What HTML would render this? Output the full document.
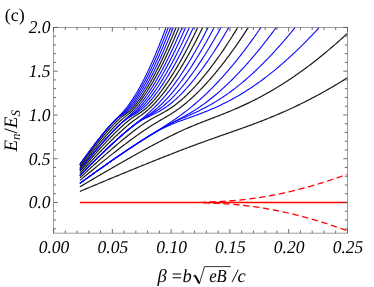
<!DOCTYPE html>
<html>
<head>
<meta charset="utf-8">
<title>Landau levels (c)</title>
<style>
html, body { margin: 0; padding: 0; background: #ffffff; }
body { width: 374px; height: 287px; overflow: hidden; font-family: "Liberation Serif", serif; }
svg { display: block; position: absolute; left: 0; top: 0; opacity: 0.999; will-change: transform; }
text { font-family: "Liberation Serif", serif; fill: #000; text-rendering: geometricPrecision; }
.it text, text.it { font-style: italic; }
</style>
</head>
<body>
<svg width="374" height="287" viewBox="0 0 374 287">
<defs>
<clipPath id="plot"><rect x="53.55" y="27.40" width="293.90" height="205.75"/></clipPath>
</defs>
<rect x="0" y="0" width="374" height="287" fill="#ffffff"/>
<g clip-path="url(#plot)" fill="none" stroke-width="1.3" stroke-linejoin="round">
<path d="M79.88 183.34 80.86 182.64 81.83 181.93 82.81 181.23 83.79 180.53 84.76 179.82 85.74 179.12 86.71 178.42 87.69 177.72 88.67 177.01 89.65 176.31 90.62 175.61 91.60 174.91 92.58 174.21 93.56 173.51 94.54 172.81 95.52 172.12 96.50 171.42 97.48 170.72 98.46 170.02 99.44 169.33 100.42 168.63 101.40 167.94 102.39 167.24 103.37 166.55 104.35 165.86 105.34 165.17 106.32 164.47 107.31 163.78 108.29 163.09 109.28 162.41 110.27 161.72 111.25 161.03 112.24 160.34 113.23 159.66 114.22 158.97 115.21 158.29 116.20 157.61 117.19 156.92 118.18 156.24 119.17 155.56 120.17 154.88 121.16 154.21 122.16 153.53 123.15 152.85 124.15 152.18 125.14 151.50 126.14 150.83 127.14 150.16 128.14 149.49 129.14 148.82 130.14 148.15 131.14 147.49 132.14 146.82 133.15 146.16 134.15 145.50 135.16 144.84 136.17 144.18 137.17 143.53 138.18 142.87 139.19 142.22 140.21 141.57 141.22 140.92 142.23 140.27 143.25 139.63 144.27 138.99 145.29 138.35 146.31 137.71 147.33 137.08 148.36 136.45 149.39 135.83 150.42 135.21 151.45 134.59 152.49 133.98 153.53 133.38 154.57 132.78 155.62 132.18 156.67 131.60 157.72 131.02 158.78 130.44 159.84 129.88 160.91 129.32 161.98 128.78 163.06 128.24 164.14 127.71 165.22 127.19 166.31 126.68 167.40 126.17 168.50 125.68 169.60 125.20 170.71 124.72 171.82 124.26 172.93 123.80 174.05 123.35 175.16 122.91 176.28 122.47 177.41 122.04 178.53 121.61 179.66 121.19 180.79 120.78 181.92 120.36 183.05 119.95 184.18 119.54 185.31 119.14 186.45 118.73 187.58 118.33 188.71 117.92 189.84 117.52 190.98 117.11 192.11 116.71 193.24 116.30 194.37 115.89 195.50 115.48 196.63 115.06 197.76 114.64 198.89 114.22 200.01 113.80 201.14 113.37 202.26 112.94 203.38 112.51 204.50 112.07 205.62 111.62 206.74 111.17 207.85 110.72 208.96 110.26 210.07 109.80 211.18 109.33 212.29 108.86 213.39 108.38 214.49 107.90 215.59 107.41 216.69 106.91 217.78 106.41 218.88 105.91 219.97 105.40 221.05 104.88 222.14 104.36 223.22 103.84 224.30 103.30 225.37 102.76 226.45 102.22 227.52 101.67 228.58 101.12 229.65 100.56 230.71 99.99 231.77 99.42 232.83 98.85 233.88 98.26 234.93 97.68 235.98 97.08 237.02 96.49 238.06 95.88 239.10 95.28 240.13 94.66 241.17 94.04 242.20 93.42 243.22 92.79 244.24 92.16 245.26 91.52 246.28 90.88 247.30 90.23 248.31 89.58 249.31 88.92 250.32 88.26 251.32 87.59 252.32 86.92 253.31 86.25 254.31 85.57 255.30 84.88 256.28 84.19 257.27 83.50 258.25 82.80 259.22 82.10 260.20 81.40 261.17 80.69 262.14 79.97 263.10 79.26 264.07 78.54 265.03 77.81 265.98 77.08 266.94 76.35 267.89 75.61 268.84 74.87 269.78 74.13 270.73 73.38 271.67 72.63 272.60 71.88 273.54 71.12 274.47 70.36 275.40 69.59 276.33 68.83 277.25 68.06 278.17 67.28 279.09 66.50 280.00 65.72 280.92 64.94 281.83 64.16 282.74 63.37 283.64 62.57 284.54 61.78 285.45 60.98 286.34 60.18 287.24 59.38 288.13 58.57 289.02 57.76 289.91 56.95 290.80 56.14 291.68 55.32 292.56 54.50 293.44 53.68 294.31 52.85 295.19 52.03 296.06 51.20 296.93 50.37 297.80 49.53 298.66 48.70 299.52 47.86 300.38 47.02 301.24 46.17 302.10 45.33 302.95 44.48 303.80 43.63 304.65 42.78 305.50 41.92 306.34 41.07 307.19 40.21 308.03 39.35 308.87 38.49 309.70 37.62 310.54 36.75 311.37 35.89 312.20 35.02 313.03 34.14 313.86 33.27 314.68 32.39 315.50 31.52 316.32 30.64 317.14 29.76 317.96 28.87 318.78 27.99 319.59 27.10 320.40 26.21 321.21 25.32 322.02 24.43 322.82 23.54 323.63 22.64 324.43 21.74 325.23 20.85" stroke="#0808ff" stroke-width="1.1"/>
<path d="M79.88 183.34 80.86 182.64 81.84 181.93 82.81 181.23 83.79 180.52 84.77 179.82 85.75 179.11 86.73 178.41 87.70 177.71 88.68 177.00 89.66 176.30 90.64 175.60 91.62 174.90 92.60 174.20 93.58 173.50 94.56 172.80 95.55 172.10 96.53 171.40 97.51 170.70 98.49 170.00 99.48 169.30 100.46 168.61 101.44 167.91 102.43 167.22 103.41 166.52 104.40 165.83 105.38 165.13 106.37 164.44 107.36 163.75 108.34 163.06 109.33 162.37 110.32 161.68 111.31 160.99 112.30 160.30 113.29 159.62 114.28 158.93 115.27 158.24 116.26 157.56 117.26 156.88 118.25 156.20 119.24 155.51 120.24 154.83 121.24 154.15 122.23 153.48 123.23 152.80 124.23 152.12 125.22 151.45 126.22 150.78 127.22 150.10 128.23 149.43 129.23 148.76 130.23 148.09 131.23 147.43 132.24 146.76 133.24 146.10 134.25 145.43 135.26 144.77 136.27 144.11 137.28 143.46 138.29 142.80 139.30 142.14 140.31 141.49 141.32 140.84 142.34 140.19 143.35 139.54 144.37 138.89 145.39 138.24 146.41 137.60 147.42 136.95 148.44 136.31 149.46 135.67 150.48 135.03 151.51 134.39 152.53 133.75 153.55 133.11 154.57 132.47 155.59 131.83 156.61 131.19 157.63 130.55 158.65 129.91 159.67 129.27 160.69 128.62 161.71 127.98 162.73 127.33 163.74 126.68 164.76 126.03 165.77 125.38 166.78 124.73 167.79 124.07 168.80 123.41 169.81 122.74 170.81 122.07 171.81 121.40 172.81 120.73 173.80 120.05 174.80 119.36 175.79 118.68 176.77 117.99 177.76 117.29 178.74 116.59 179.72 115.89 180.69 115.18 181.66 114.47 182.63 113.75 183.60 113.03 184.56 112.30 185.52 111.57 186.47 110.83 187.42 110.09 188.37 109.34 189.31 108.59 190.25 107.84 191.19 107.08 192.12 106.32 193.05 105.55 193.97 104.77 194.89 104.00 195.81 103.21 196.72 102.43 197.63 101.64 198.54 100.84 199.44 100.04 200.34 99.24 201.23 98.43 202.12 97.62 203.01 96.81 203.89 95.99 204.77 95.16 205.65 94.34 206.52 93.50 207.39 92.67 208.26 91.83 209.12 90.99 209.98 90.14 210.83 89.29 211.68 88.44 212.53 87.58 213.38 86.72 214.22 85.86 215.06 84.99 215.89 84.12 216.72 83.25 217.55 82.37 218.37 81.50 219.19 80.61 220.01 79.73 220.83 78.84 221.64 77.95 222.45 77.06 223.25 76.16 224.05 75.26 224.85 74.36 225.65 73.45 226.44 72.55 227.23 71.64 228.02 70.72 228.81 69.81 229.59 68.89 230.37 67.97 231.14 67.05 231.92 66.13 232.69 65.20 233.45 64.27 234.22 63.34 234.98 62.40 235.74 61.47 236.50 60.53 237.25 59.59 238.00 58.65 238.75 57.71 239.50 56.76 240.24 55.81 240.98 54.86 241.72 53.91 242.46 52.96 243.19 52.00 243.93 51.04 244.66 50.08 245.38 49.12 246.11 48.16 246.83 47.20 247.55 46.23 248.27 45.26 248.99 44.29 249.70 43.32 250.41 42.35 251.12 41.37 251.83 40.40 252.53 39.42 253.23 38.44 253.93 37.46 254.63 36.48 255.33 35.49 256.02 34.51 256.72 33.52 257.41 32.53 258.09 31.55 258.78 30.55 259.47 29.56 260.15 28.57 260.83 27.57 261.51 26.58 262.18 25.58 262.86 24.58 263.53 23.58 264.20 22.58 264.87 21.58 265.54 20.58" stroke="#0808ff" stroke-width="1.1"/>
<path d="M79.88 175.49 80.73 174.64 81.58 173.78 82.42 172.93 83.27 172.07 84.12 171.22 84.97 170.36 85.82 169.51 86.67 168.66 87.52 167.81 88.37 166.96 89.22 166.11 90.07 165.26 90.93 164.41 91.78 163.56 92.64 162.72 93.50 161.87 94.35 161.03 95.21 160.18 96.07 159.34 96.93 158.50 97.79 157.66 98.65 156.82 99.52 155.98 100.38 155.14 101.25 154.31 102.11 153.47 102.98 152.64 103.85 151.81 104.72 150.98 105.59 150.15 106.47 149.32 107.34 148.49 108.22 147.67 109.09 146.84 109.97 146.02 110.85 145.20 111.74 144.38 112.62 143.56 113.51 142.75 114.39 141.94 115.28 141.12 116.17 140.32 117.07 139.51 117.96 138.70 118.86 137.90 119.76 137.10 120.66 136.31 121.56 135.51 122.47 134.72 123.38 133.93 124.29 133.15 125.21 132.36 126.13 131.59 127.05 130.81 127.97 130.04 128.90 129.28 129.84 128.52 130.78 127.77 131.72 127.02 132.67 126.28 133.63 125.56 134.60 124.84 135.57 124.13 136.56 123.44 137.55 122.76 138.56 122.10 139.57 121.46 140.60 120.84 141.64 120.23 142.69 119.64 143.75 119.07 144.82 118.52 145.89 117.97 146.97 117.44 148.06 116.92 149.14 116.40 150.23 115.88 151.32 115.36 152.40 114.84 153.48 114.32 154.56 113.78 155.64 113.24 156.71 112.69 157.77 112.12 158.82 111.55 159.87 110.95 160.91 110.35 161.94 109.73 162.97 109.09 163.98 108.44 164.98 107.78 165.98 107.10 166.96 106.41 167.93 105.70 168.90 104.98 169.85 104.25 170.80 103.50 171.73 102.74 172.66 101.97 173.57 101.20 174.48 100.41 175.38 99.61 176.27 98.80 177.16 97.98 178.03 97.15 178.90 96.32 179.76 95.47 180.61 94.62 181.45 93.77 182.29 92.90 183.12 92.03 183.95 91.16 184.77 90.28 185.58 89.39 186.39 88.50 187.19 87.60 187.98 86.69 188.77 85.79 189.56 84.87 190.34 83.96 191.11 83.04 191.88 82.11 192.65 81.18 193.41 80.25 194.16 79.31 194.92 78.37 195.66 77.43 196.41 76.48 197.14 75.53 197.88 74.58 198.61 73.62 199.34 72.66 200.06 71.70 200.78 70.73 201.49 69.77 202.20 68.80 202.91 67.82 203.62 66.85 204.32 65.87 205.01 64.89 205.71 63.90 206.40 62.92 207.09 61.93 207.77 60.94 208.45 59.95 209.13 58.96 209.81 57.96 210.48 56.96 211.15 55.96 211.82 54.96 212.48 53.96 213.14 52.95 213.80 51.94 214.46 50.93 215.11 49.92 215.76 48.91 216.41 47.90 217.05 46.88 217.70 45.86 218.34 44.84 218.97 43.82 219.61 42.80 220.24 41.78 220.87 40.75 221.50 39.73 222.13 38.70 222.75 37.67 223.37 36.64 223.99 35.61 224.61 34.57 225.22 33.54 225.84 32.50 226.45 31.47 227.06 30.43 227.66 29.39 228.27 28.35 228.87 27.31 229.47 26.26 230.07 25.22 230.67 24.17 231.26 23.13 231.85 22.08 232.44 21.03" stroke="#0808ff" stroke-width="1.1"/>
<path d="M79.88 175.49 80.73 174.64 81.58 173.78 82.42 172.93 83.27 172.07 84.12 171.22 84.97 170.37 85.82 169.51 86.67 168.66 87.52 167.81 88.37 166.96 89.22 166.11 90.07 165.26 90.93 164.41 91.78 163.57 92.64 162.72 93.49 161.88 94.35 161.03 95.21 160.19 96.07 159.35 96.93 158.50 97.79 157.66 98.65 156.82 99.51 155.99 100.38 155.15 101.24 154.31 102.11 153.48 102.98 152.64 103.85 151.81 104.72 150.98 105.59 150.15 106.46 149.32 107.33 148.50 108.21 147.67 109.09 146.85 109.97 146.03 110.85 145.21 111.73 144.39 112.61 143.57 113.50 142.76 114.38 141.94 115.27 141.13 116.16 140.32 117.06 139.52 117.95 138.71 118.85 137.91 119.75 137.11 120.65 136.31 121.55 135.52 122.46 134.73 123.37 133.94 124.28 133.15 125.19 132.37 126.11 131.59 127.03 130.81 127.95 130.04 128.87 129.27 129.80 128.50 130.73 127.74 131.66 126.97 132.59 126.22 133.53 125.46 134.46 124.70 135.40 123.95 136.34 123.19 137.28 122.44 138.21 121.69 139.15 120.93 140.09 120.17 141.02 119.42 141.95 118.65 142.88 117.89 143.81 117.12 144.73 116.34 145.64 115.57 146.56 114.78 147.46 113.99 148.37 113.20 149.26 112.39 150.15 111.58 151.04 110.77 151.92 109.95 152.79 109.12 153.66 108.28 154.52 107.44 155.37 106.59 156.22 105.74 157.06 104.88 157.89 104.01 158.72 103.14 159.54 102.26 160.35 101.37 161.16 100.48 161.96 99.58 162.76 98.68 163.55 97.77 164.33 96.86 165.11 95.94 165.88 95.02 166.64 94.09 167.40 93.16 168.16 92.22 168.91 91.28 169.65 90.33 170.39 89.38 171.12 88.43 171.85 87.47 172.58 86.51 173.29 85.54 174.01 84.57 174.72 83.60 175.42 82.63 176.12 81.65 176.82 80.67 177.51 79.68 178.20 78.69 178.88 77.70 179.56 76.71 180.23 75.71 180.90 74.71 181.57 73.71 182.23 72.71 182.89 71.70 183.55 70.69 184.20 69.68 184.85 68.67 185.50 67.65 186.14 66.64 186.78 65.62 187.41 64.60 188.04 63.57 188.67 62.55 189.30 61.52 189.92 60.49 190.54 59.46 191.16 58.42 191.77 57.39 192.38 56.35 192.99 55.31 193.60 54.27 194.20 53.23 194.80 52.19 195.40 51.15 195.99 50.10 196.58 49.05 197.17 48.00 197.76 46.95 198.34 45.90 198.93 44.85 199.50 43.79 200.08 42.74 200.66 41.68 201.23 40.62 201.80 39.56 202.37 38.50 202.93 37.44 203.50 36.38 204.06 35.31 204.62 34.25 205.17 33.18 205.73 32.11 206.28 31.04 206.83 29.97 207.38 28.90 207.93 27.83 208.47 26.76 209.02 25.69 209.56 24.61 210.10 23.54 210.63 22.46 211.17 21.38" stroke="#0808ff" stroke-width="1.1"/>
<path d="M79.88 169.53 80.64 168.59 81.41 167.66 82.17 166.73 82.93 165.79 83.70 164.86 84.47 163.93 85.23 163.00 86.00 162.07 86.77 161.14 87.54 160.22 88.31 159.29 89.08 158.36 89.86 157.44 90.63 156.52 91.41 155.59 92.19 154.67 92.96 153.75 93.74 152.83 94.53 151.92 95.31 151.00 96.09 150.08 96.88 149.17 97.67 148.26 98.46 147.35 99.25 146.44 100.04 145.53 100.84 144.63 101.64 143.72 102.44 142.82 103.24 141.92 104.04 141.02 104.85 140.12 105.66 139.23 106.47 138.34 107.28 137.45 108.10 136.56 108.92 135.68 109.74 134.80 110.57 133.92 111.40 133.04 112.23 132.17 113.06 131.30 113.90 130.44 114.75 129.58 115.59 128.72 116.45 127.87 117.30 127.02 118.17 126.18 119.04 125.34 119.91 124.52 120.80 123.70 121.70 122.89 122.60 122.10 123.53 121.32 124.46 120.56 125.42 119.83 126.39 119.12 127.39 118.44 128.40 117.78 129.43 117.15 130.47 116.55 131.52 115.95 132.57 115.36 133.62 114.77 134.67 114.17 135.70 113.56 136.73 112.93 137.75 112.28 138.74 111.60 139.72 110.90 140.69 110.18 141.63 109.43 142.56 108.66 143.47 107.86 144.36 107.05 145.23 106.22 146.09 105.38 146.94 104.52 147.77 103.65 148.59 102.77 149.40 101.87 150.20 100.97 150.99 100.05 151.76 99.13 152.53 98.20 153.29 97.26 154.04 96.32 154.78 95.37 155.51 94.41 156.24 93.45 156.96 92.49 157.67 91.51 158.38 90.54 159.08 89.56 159.77 88.57 160.46 87.58 161.14 86.59 161.82 85.59 162.49 84.59 163.16 83.58 163.82 82.58 164.48 81.56 165.13 80.55 165.78 79.53 166.42 78.51 167.06 77.49 167.69 76.47 168.32 75.44 168.95 74.41 169.57 73.37 170.18 72.34 170.80 71.30 171.41 70.26 172.01 69.22 172.62 68.18 173.22 67.13 173.81 66.08 174.41 65.03 174.99 63.98 175.58 62.93 176.16 61.87 176.74 60.81 177.32 59.76 177.89 58.70 178.46 57.63 179.03 56.57 179.59 55.50 180.16 54.44 180.72 53.37 181.27 52.30 181.83 51.23 182.38 50.16 182.93 49.08 183.47 48.01 184.02 46.93 184.56 45.86 185.10 44.78 185.63 43.70 186.17 42.62 186.70 41.54 187.23 40.45 187.75 39.37 188.28 38.28 188.80 37.20 189.32 36.11 189.84 35.02 190.36 33.93 190.87 32.84 191.38 31.75 191.89 30.66 192.40 29.56 192.91 28.47 193.41 27.38 193.91 26.28 194.41 25.18 194.91 24.09 195.41 22.99 195.90 21.89 196.39 20.79" stroke="#0808ff" stroke-width="1.1"/>
<path d="M79.88 169.53 80.65 168.59 81.41 167.66 82.17 166.72 82.94 165.79 83.70 164.86 84.47 163.92 85.24 162.99 86.01 162.06 86.78 161.13 87.55 160.21 88.32 159.28 89.09 158.35 89.87 157.43 90.64 156.50 91.42 155.58 92.20 154.66 92.98 153.74 93.76 152.82 94.54 151.90 95.33 150.98 96.11 150.07 96.90 149.15 97.69 148.24 98.48 147.33 99.27 146.42 100.06 145.51 100.86 144.60 101.66 143.70 102.46 142.79 103.26 141.89 104.07 140.99 104.87 140.10 105.68 139.20 106.50 138.31 107.31 137.42 108.13 136.53 108.95 135.65 109.77 134.76 110.60 133.89 111.43 133.01 112.26 132.14 113.10 131.27 113.94 130.40 114.78 129.54 115.63 128.68 116.48 127.83 117.34 126.98 118.20 126.13 119.07 125.29 119.94 124.45 120.81 123.62 121.69 122.80 122.57 121.97 123.45 121.15 124.34 120.33 125.23 119.51 126.11 118.69 127.00 117.88 127.88 117.05 128.76 116.23 129.64 115.40 130.51 114.56 131.37 113.72 132.23 112.87 133.08 112.01 133.92 111.15 134.75 110.27 135.57 109.39 136.39 108.50 137.19 107.60 137.98 106.69 138.77 105.77 139.55 104.85 140.31 103.92 141.07 102.98 141.82 102.03 142.56 101.08 143.30 100.12 144.02 99.16 144.74 98.19 145.45 97.21 146.15 96.23 146.85 95.25 147.54 94.26 148.22 93.26 148.89 92.26 149.56 91.26 150.22 90.25 150.88 89.23 151.53 88.22 152.18 87.20 152.82 86.18 153.45 85.15 154.08 84.12 154.71 83.09 155.33 82.05 155.94 81.02 156.55 79.97 157.16 78.93 157.76 77.88 158.36 76.84 158.95 75.79 159.54 74.73 160.12 73.68 160.70 72.62 161.28 71.56 161.85 70.50 162.42 69.43 162.99 68.37 163.55 67.30 164.11 66.23 164.67 65.16 165.22 64.09 165.77 63.01 166.32 61.94 166.86 60.86 167.40 59.78 167.94 58.70 168.47 57.62 169.00 56.54 169.53 55.45 170.06 54.36 170.58 53.28 171.10 52.19 171.62 51.10 172.13 50.01 172.65 48.92 173.16 47.82 173.66 46.73 174.17 45.63 174.67 44.54 175.17 43.44 175.67 42.34 176.17 41.24 176.66 40.14 177.15 39.04 177.64 37.93 178.13 36.83 178.62 35.72 179.10 34.62 179.58 33.51 180.06 32.40 180.54 31.30 181.01 30.19 181.49 29.08 181.96 27.97 182.43 26.85 182.89 25.74 183.36 24.63 183.82 23.52 184.29 22.40 184.75 21.29" stroke="#0808ff" stroke-width="1.1"/>
<path d="M79.88 164.55 80.58 163.57 81.28 162.58 81.99 161.60 82.69 160.63 83.40 159.65 84.10 158.67 84.81 157.69 85.52 156.72 86.23 155.74 86.94 154.77 87.65 153.80 88.37 152.82 89.08 151.85 89.80 150.88 90.52 149.92 91.24 148.95 91.96 147.98 92.69 147.02 93.42 146.06 94.14 145.10 94.88 144.14 95.61 143.18 96.34 142.23 97.08 141.27 97.82 140.32 98.57 139.37 99.31 138.42 100.06 137.48 100.81 136.53 101.57 135.59 102.32 134.66 103.09 133.72 103.85 132.79 104.62 131.86 105.39 130.93 106.17 130.01 106.95 129.09 107.74 128.18 108.53 127.27 109.33 126.37 110.13 125.47 110.94 124.57 111.76 123.69 112.59 122.81 113.43 121.94 114.28 121.09 115.15 120.25 116.03 119.44 116.95 118.65 117.89 117.90 118.86 117.18 119.85 116.50 120.86 115.84 121.88 115.20 122.90 114.55 123.91 113.90 124.91 113.21 125.88 112.50 126.82 111.75 127.74 110.96 128.63 110.15 129.49 109.31 130.33 108.44 131.15 107.56 131.95 106.66 132.74 105.74 133.50 104.81 134.26 103.87 135.00 102.91 135.72 101.95 136.44 100.98 137.15 100.01 137.84 99.02 138.53 98.03 139.21 97.04 139.88 96.03 140.54 95.03 141.20 94.01 141.85 93.00 142.49 91.98 143.12 90.95 143.75 89.92 144.38 88.89 144.99 87.85 145.60 86.81 146.21 85.77 146.81 84.72 147.40 83.67 147.99 82.62 148.58 81.57 149.16 80.51 149.73 79.45 150.30 78.39 150.87 77.32 151.43 76.26 151.99 75.19 152.55 74.12 153.10 73.04 153.64 71.97 154.19 70.89 154.73 69.81 155.26 68.73 155.79 67.65 156.32 66.57 156.85 65.48 157.37 64.40 157.89 63.31 158.41 62.22 158.92 61.13 159.43 60.03 159.94 58.94 160.44 57.84 160.94 56.75 161.44 55.65 161.94 54.55 162.43 53.45 162.92 52.35 163.41 51.24 163.89 50.14 164.38 49.04 164.86 47.93 165.33 46.82 165.81 45.71 166.28 44.61 166.76 43.50 167.22 42.38 167.69 41.27 168.16 40.16 168.62 39.05 169.08 37.93 169.54 36.82 169.99 35.70 170.45 34.58 170.90 33.46 171.35 32.35 171.80 31.23 172.25 30.11 172.69 28.99 173.13 27.86 173.57 26.74 174.01 25.62 174.45 24.49 174.89 23.37 175.32 22.24 175.75 21.12" stroke="#0808ff" stroke-width="1.1"/>
<path d="M79.88 164.55 80.58 163.57 81.29 162.58 81.99 161.60 82.69 160.62 83.40 159.64 84.10 158.67 84.81 157.69 85.52 156.71 86.23 155.74 86.94 154.76 87.66 153.79 88.37 152.82 89.09 151.84 89.81 150.88 90.53 149.91 91.25 148.94 91.97 147.97 92.70 147.01 93.42 146.05 94.15 145.08 94.89 144.13 95.62 143.17 96.36 142.21 97.09 141.26 97.84 140.30 98.58 139.35 99.33 138.41 100.07 137.46 100.83 136.52 101.58 135.57 102.34 134.64 103.10 133.70 103.87 132.77 104.64 131.84 105.41 130.91 106.19 129.99 106.97 129.07 107.76 128.16 108.55 127.25 109.35 126.34 110.15 125.44 110.96 124.55 111.78 123.66 112.60 122.77 113.43 121.89 114.26 121.02 115.10 120.15 115.94 119.29 116.79 118.43 117.64 117.57 118.48 116.71 119.33 115.85 120.16 114.98 121.00 114.11 121.82 113.22 122.63 112.33 123.43 111.43 124.23 110.52 125.01 109.60 125.77 108.67 126.53 107.73 127.27 106.78 128.01 105.82 128.73 104.85 129.44 103.88 130.14 102.89 130.83 101.90 131.51 100.91 132.18 99.90 132.85 98.90 133.50 97.88 134.15 96.86 134.79 95.84 135.42 94.81 136.04 93.78 136.66 92.74 137.27 91.70 137.87 90.66 138.47 89.61 139.06 88.56 139.65 87.50 140.23 86.44 140.80 85.38 141.37 84.32 141.94 83.25 142.50 82.18 143.05 81.11 143.61 80.04 144.15 78.96 144.69 77.88 145.23 76.80 145.76 75.72 146.29 74.64 146.82 73.55 147.34 72.46 147.86 71.37 148.37 70.28 148.88 69.19 149.39 68.09 149.90 67.00 150.40 65.90 150.89 64.80 151.39 63.70 151.88 62.60 152.37 61.49 152.85 60.39 153.34 59.28 153.82 58.17 154.29 57.07 154.77 55.96 155.24 54.84 155.71 53.73 156.17 52.62 156.64 51.51 157.10 50.39 157.56 49.27 158.01 48.16 158.47 47.04 158.92 45.92 159.37 44.80 159.82 43.68 160.26 42.56 160.71 41.44 161.15 40.31 161.58 39.19 162.02 38.06 162.46 36.94 162.89 35.81 163.32 34.68 163.75 33.56 164.18 32.43 164.60 31.30 165.02 30.17 165.45 29.04 165.87 27.91 166.28 26.77 166.70 25.64 167.11 24.51 167.53 23.37 167.94 22.24 168.35 21.10" stroke="#0808ff" stroke-width="1.1"/>
<path d="M79.88 183.34 80.86 182.64 81.83 181.93 82.81 181.23 83.78 180.53 84.76 179.82 85.73 179.12 86.71 178.42 87.69 177.72 88.66 177.02 89.64 176.32 90.62 175.62 91.60 174.92 92.57 174.22 93.55 173.52 94.53 172.82 95.51 172.12 96.49 171.42 97.47 170.73 98.45 170.03 99.43 169.34 100.41 168.64 101.39 167.95 102.38 167.25 103.36 166.56 104.34 165.87 105.33 165.17 106.31 164.48 107.30 163.79 108.28 163.10 109.27 162.42 110.25 161.73 111.24 161.04 112.23 160.35 113.21 159.67 114.20 158.98 115.19 158.30 116.18 157.62 117.17 156.94 118.16 156.25 119.16 155.57 120.15 154.90 121.14 154.22 122.14 153.54 123.13 152.87 124.13 152.19 125.12 151.52 126.12 150.85 127.12 150.18 128.12 149.51 129.12 148.84 130.12 148.17 131.12 147.51 132.12 146.84 133.12 146.18 134.13 145.52 135.13 144.86 136.14 144.20 137.15 143.54 138.16 142.89 139.16 142.23 140.18 141.58 141.19 140.93 142.20 140.29 143.21 139.64 144.23 139.00 145.25 138.35 146.27 137.71 147.29 137.08 148.31 136.44 149.33 135.81 150.35 135.18 151.38 134.55 152.41 133.93 153.44 133.31 154.47 132.69 155.50 132.07 156.54 131.46 157.57 130.86 158.61 130.25 159.66 129.65 160.70 129.06 161.75 128.47 162.80 127.88 163.85 127.30 164.91 126.73 165.97 126.16 167.03 125.60 168.10 125.04 169.17 124.50 170.24 123.95 171.32 123.42 172.40 122.89 173.48 122.36 174.57 121.85 175.66 121.33 176.75 120.83 177.84 120.33 178.93 119.83 180.03 119.33 181.13 118.84 182.23 118.35 183.33 117.87 184.43 117.38 185.53 116.89 186.63 116.41 187.72 115.92 188.82 115.43 189.92 114.94 191.02 114.45 192.11 113.96 193.21 113.46 194.30 112.96 195.39 112.45 196.48 111.94 197.57 111.42 198.65 110.90 199.73 110.38 200.81 109.84 201.89 109.31 202.96 108.76 204.03 108.21 205.09 107.66 206.16 107.10 207.22 106.53 208.27 105.95 209.33 105.37 210.38 104.79 211.42 104.19 212.46 103.59 213.50 102.98 214.54 102.37 215.57 101.75 216.59 101.12 217.62 100.49 218.63 99.85 219.65 99.21 220.66 98.56 221.67 97.90 222.67 97.23 223.67 96.56 224.66 95.89 225.65 95.21 226.64 94.52 227.62 93.83 228.60 93.13 229.58 92.43 230.55 91.72 231.51 91.00 232.48 90.28 233.44 89.56 234.39 88.83 235.35 88.09 236.29 87.35 237.24 86.61 238.18 85.86 239.12 85.11 240.05 84.35 240.98 83.59 241.91 82.82 242.83 82.05 243.75 81.27 244.66 80.49 245.58 79.71 246.48 78.92 247.39 78.13 248.29 77.34 249.19 76.54 250.09 75.74 250.98 74.93 251.87 74.12 252.75 73.31 253.64 72.49 254.52 71.67 255.39 70.85 256.27 70.02 257.14 69.19 258.01 68.36 258.87 67.53 259.73 66.69 260.59 65.85 261.45 65.00 262.30 64.15 263.15 63.30 264.00 62.45 264.84 61.59 265.69 60.74 266.53 59.88 267.36 59.01 268.20 58.15 269.03 57.28 269.86 56.41 270.68 55.53 271.51 54.66 272.33 53.78 273.15 52.90 273.96 52.02 274.78 51.13 275.59 50.24 276.40 49.35 277.21 48.46 278.01 47.57 278.81 46.67 279.61 45.77 280.41 44.87 281.20 43.97 282.00 43.07 282.79 42.16 283.58 41.25 284.36 40.35 285.15 39.43 285.93 38.52 286.71 37.61 287.49 36.69 288.26 35.77 289.04 34.85 289.81 33.93 290.58 33.00 291.35 32.08 292.11 31.15 292.88 30.22 293.64 29.29 294.40 28.36 295.15 27.43 295.91 26.49 296.66 25.55 297.42 24.62 298.17 23.68 298.92 22.73 299.66 21.79 300.41 20.85" stroke="#0808ff" stroke-width="1.1"/>
<path d="M79.88 175.49 80.73 174.64 81.57 173.79 82.42 172.93 83.26 172.08 84.11 171.23 84.95 170.38 85.80 169.53 86.65 168.68 87.50 167.83 88.35 166.98 89.20 166.13 90.05 165.29 90.90 164.44 91.75 163.60 92.60 162.75 93.46 161.91 94.31 161.07 95.17 160.23 96.03 159.39 96.88 158.55 97.74 157.71 98.60 156.87 99.46 156.03 100.32 155.20 101.19 154.37 102.05 153.53 102.92 152.70 103.78 151.87 104.65 151.04 105.52 150.21 106.39 149.39 107.26 148.56 108.14 147.74 109.01 146.92 109.89 146.10 110.77 145.28 111.65 144.46 112.53 143.65 113.41 142.84 114.29 142.03 115.18 141.22 116.07 140.41 116.96 139.60 117.85 138.80 118.75 138.00 119.64 137.20 120.54 136.41 121.44 135.62 122.35 134.83 123.25 134.04 124.16 133.26 125.07 132.47 125.99 131.70 126.91 130.92 127.83 130.15 128.75 129.39 129.68 128.63 130.61 127.87 131.54 127.12 132.48 126.37 133.43 125.63 134.38 124.89 135.33 124.16 136.29 123.44 137.26 122.73 138.23 122.03 139.21 121.34 140.20 120.66 141.20 120.00 142.21 119.35 143.23 118.71 144.25 118.09 145.29 117.48 146.33 116.88 147.37 116.28 148.41 115.69 149.46 115.10 150.50 114.51 151.55 113.92 152.58 113.31 153.62 112.70 154.64 112.08 155.66 111.44 156.67 110.79 157.67 110.12 158.65 109.44 159.63 108.75 160.60 108.04 161.56 107.32 162.51 106.58 163.44 105.83 164.37 105.07 165.29 104.29 166.19 103.51 167.09 102.71 167.98 101.90 168.86 101.09 169.73 100.26 170.59 99.43 171.44 98.58 172.29 97.73 173.13 96.87 173.96 96.01 174.78 95.13 175.60 94.25 176.41 93.37 177.21 92.48 178.01 91.58 178.80 90.68 179.59 89.77 180.37 88.86 181.14 87.94 181.91 87.02 182.67 86.09 183.43 85.16 184.19 84.23 184.93 83.29 185.68 82.35 186.42 81.40 187.15 80.45 187.88 79.50 188.61 78.54 189.33 77.59 190.05 76.62 190.76 75.66 191.47 74.69 192.17 73.72 192.87 72.74 193.57 71.77 194.27 70.79 194.96 69.81 195.64 68.82 196.32 67.83 197.00 66.85 197.68 65.85 198.35 64.86 199.02 63.86 199.69 62.87 200.35 61.87 201.01 60.86 201.67 59.86 202.33 58.85 202.98 57.85 203.62 56.84 204.27 55.82 204.91 54.81 205.55 53.79 206.19 52.78 206.82 51.76 207.46 50.74 208.08 49.72 208.71 48.69 209.34 47.67 209.96 46.64 210.58 45.61 211.19 44.58 211.81 43.55 212.42 42.52 213.03 41.48 213.63 40.45 214.24 39.41 214.84 38.37 215.44 37.34 216.04 36.29 216.64 35.25 217.23 34.21 217.82 33.17 218.41 32.12 219.00 31.07 219.58 30.03 220.17 28.98 220.75 27.93 221.33 26.88 221.90 25.82 222.48 24.77 223.05 23.72 223.62 22.66 224.19 21.60 224.76 20.55" stroke="#0808ff" stroke-width="1.1"/>
<path d="M79.88 169.53 80.64 168.60 81.40 167.67 82.16 166.74 82.92 165.81 83.68 164.88 84.45 163.95 85.21 163.03 85.98 162.10 86.74 161.18 87.51 160.25 88.28 159.33 89.05 158.41 89.82 157.49 90.59 156.57 91.36 155.65 92.14 154.73 92.91 153.81 93.69 152.90 94.47 151.98 95.25 151.07 96.03 150.16 96.81 149.25 97.60 148.34 98.39 147.43 99.17 146.53 99.96 145.62 100.76 144.72 101.55 143.82 102.35 142.92 103.14 142.02 103.95 141.13 104.75 140.24 105.55 139.35 106.36 138.46 107.17 137.57 107.98 136.69 108.80 135.81 109.62 134.93 110.44 134.05 111.27 133.18 112.09 132.31 112.93 131.44 113.76 130.58 114.60 129.72 115.44 128.87 116.29 128.02 117.14 127.17 118.00 126.33 118.86 125.50 119.73 124.67 120.61 123.85 121.49 123.03 122.38 122.22 123.28 121.43 124.19 120.64 125.11 119.87 126.04 119.12 126.99 118.38 127.95 117.66 128.93 116.97 129.93 116.30 130.93 115.64 131.94 114.98 132.94 114.32 133.94 113.66 134.93 112.98 135.90 112.27 136.86 111.55 137.80 110.80 138.72 110.03 139.63 109.24 140.51 108.43 141.38 107.61 142.24 106.76 143.08 105.91 143.90 105.03 144.72 104.15 145.52 103.26 146.31 102.35 147.09 101.44 147.86 100.52 148.62 99.59 149.37 98.65 150.11 97.70 150.84 96.75 151.57 95.80 152.29 94.83 153.00 93.87 153.70 92.89 154.40 91.92 155.09 90.93 155.77 89.95 156.45 88.96 157.13 87.96 157.79 86.96 158.45 85.96 159.11 84.96 159.76 83.95 160.41 82.94 161.05 81.92 161.69 80.90 162.32 79.88 162.95 78.86 163.57 77.83 164.19 76.80 164.80 75.77 165.41 74.74 166.02 73.70 166.62 72.66 167.22 71.62 167.82 70.58 168.41 69.53 169.00 68.49 169.58 67.44 170.16 66.39 170.74 65.34 171.32 64.28 171.89 63.22 172.46 62.17 173.02 61.11 173.58 60.05 174.14 58.98 174.70 57.92 175.25 56.85 175.80 55.79 176.35 54.72 176.89 53.65 177.44 52.58 177.97 51.50 178.51 50.43 179.05 49.35 179.58 48.28 180.11 47.20 180.63 46.12 181.16 45.04 181.68 43.96 182.20 42.88 182.72 41.79 183.23 40.71 183.75 39.62 184.26 38.54 184.76 37.45 185.27 36.36 185.78 35.27 186.28 34.18 186.78 33.09 187.28 31.99 187.77 30.90 188.27 29.81 188.76 28.71 189.25 27.62 189.74 26.52 190.22 25.42 190.71 24.32 191.19 23.22 191.67 22.12 192.15 21.02" stroke="#0808ff" stroke-width="1.1"/>
<path d="M79.88 164.55 80.58 163.57 81.28 162.59 81.98 161.61 82.68 160.64 83.38 159.66 84.09 158.69 84.79 157.72 85.50 156.74 86.21 155.77 86.92 154.80 87.63 153.83 88.34 152.86 89.05 151.90 89.77 150.93 90.48 149.96 91.20 149.00 91.92 148.04 92.64 147.08 93.37 146.12 94.10 145.16 94.82 144.21 95.55 143.25 96.29 142.30 97.02 141.35 97.76 140.40 98.50 139.45 99.24 138.51 99.99 137.57 100.74 136.63 101.49 135.69 102.25 134.75 103.00 133.82 103.77 132.89 104.53 131.97 105.30 131.04 106.08 130.12 106.86 129.21 107.64 128.30 108.43 127.39 109.22 126.49 110.02 125.59 110.83 124.70 111.64 123.81 112.46 122.93 113.29 122.06 114.13 121.20 114.98 120.35 115.84 119.51 116.72 118.69 117.62 117.90 118.54 117.12 119.48 116.38 120.44 115.66 121.42 114.96 122.39 114.25 123.35 113.53 124.29 112.78 125.21 112.00 126.10 111.19 126.96 110.36 127.80 109.50 128.62 108.62 129.42 107.72 130.20 106.81 130.97 105.88 131.72 104.94 132.46 104.00 133.18 103.04 133.89 102.07 134.60 101.10 135.29 100.11 135.97 99.13 136.65 98.13 137.32 97.13 137.97 96.13 138.62 95.11 139.27 94.10 139.90 93.08 140.53 92.06 141.16 91.03 141.77 90.00 142.38 88.96 142.99 87.92 143.59 86.88 144.18 85.84 144.77 84.79 145.35 83.74 145.93 82.68 146.50 81.63 147.07 80.57 147.64 79.51 148.20 78.44 148.75 77.38 149.30 76.31 149.85 75.24 150.39 74.17 150.93 73.09 151.47 72.02 152.00 70.94 152.53 69.86 153.05 68.78 153.58 67.69 154.09 66.61 154.61 65.52 155.12 64.44 155.63 63.35 156.13 62.26 156.64 61.17 157.13 60.07 157.63 58.98 158.12 57.88 158.62 56.78 159.10 55.69 159.59 54.59 160.07 53.49 160.55 52.38 161.03 51.28 161.50 50.18 161.98 49.07 162.45 47.97 162.92 46.86 163.38 45.75 163.84 44.64 164.31 43.53 164.77 42.42 165.22 41.31 165.68 40.20 166.13 39.08 166.58 37.97 167.03 36.85 167.47 35.74 167.92 34.62 168.36 33.50 168.80 32.39 169.24 31.27 169.68 30.15 170.11 29.03 170.55 27.91 170.98 26.78 171.41 25.66 171.83 24.54 172.26 23.41 172.69 22.29 173.11 21.17" stroke="#0808ff" stroke-width="1.1"/>
<path d="M79.88 183.34 80.86 182.64 81.83 181.93 82.81 181.23 83.78 180.53 84.76 179.82 85.74 179.12 86.71 178.42 87.69 177.72 88.67 177.01 89.65 176.31 90.62 175.61 91.60 174.91 92.58 174.21 93.56 173.51 94.54 172.81 95.52 172.12 96.50 171.42 97.48 170.72 98.46 170.02 99.44 169.33 100.42 168.63 101.40 167.94 102.39 167.24 103.37 166.55 104.35 165.86 105.34 165.17 106.32 164.48 107.31 163.78 108.29 163.10 109.28 162.41 110.27 161.72 111.25 161.03 112.24 160.34 113.23 159.66 114.22 158.97 115.21 158.29 116.20 157.61 117.19 156.92 118.18 156.24 119.17 155.56 120.17 154.88 121.16 154.21 122.15 153.53 123.15 152.85 124.15 152.18 125.14 151.51 126.14 150.83 127.14 150.16 128.14 149.49 129.14 148.82 130.14 148.16 131.14 147.49 132.14 146.83 133.15 146.16 134.15 145.50 135.16 144.84 136.16 144.18 137.17 143.53 138.18 142.87 139.19 142.22 140.20 141.57 141.21 140.92 142.23 140.27 143.24 139.62 144.26 138.98 145.28 138.34 146.30 137.70 147.32 137.06 148.34 136.42 149.36 135.79 150.38 135.16 151.41 134.53 152.44 133.91 153.47 133.29 154.50 132.67 155.53 132.05 156.57 131.44 157.61 130.83 158.65 130.22 159.69 129.62 160.73 129.02 161.78 128.43 162.82 127.84 163.87 127.25 164.93 126.67 165.98 126.09 167.04 125.51 168.09 124.94 169.15 124.37 170.21 123.80 171.28 123.24 172.34 122.67 173.41 122.11 174.47 121.55 175.54 121.00 176.60 120.44 177.67 119.88 178.73 119.32 179.79 118.75 180.86 118.19 181.92 117.62 182.97 117.05 184.03 116.47 185.08 115.89 186.14 115.31 187.18 114.72 188.23 114.12 189.27 113.52 190.31 112.91 191.34 112.29 192.37 111.67 193.39 111.04 194.41 110.40 195.43 109.76 196.44 109.11 197.45 108.45 198.45 107.78 199.45 107.11 200.44 106.43 201.43 105.75 202.41 105.06 203.39 104.36 204.37 103.65 205.34 102.94 206.30 102.22 207.27 101.50 208.22 100.77 209.17 100.03 210.12 99.29 211.06 98.55 212.00 97.79 212.94 97.04 213.87 96.27 214.79 95.51 215.72 94.73 216.63 93.96 217.55 93.17 218.46 92.39 219.36 91.59 220.27 90.80 221.16 90.00 222.06 89.19 222.95 88.39 223.84 87.57 224.72 86.76 225.60 85.94 226.48 85.11 227.35 84.28 228.22 83.45 229.08 82.62 229.95 81.78 230.81 80.94 231.66 80.09 232.51 79.24 233.36 78.39 234.21 77.54 235.05 76.68 235.89 75.82 236.73 74.95 237.56 74.08 238.39 73.21 239.22 72.34 240.04 71.46 240.87 70.59 241.69 69.70 242.50 68.82 243.31 67.93 244.12 67.05 244.93 66.15 245.74 65.26 246.54 64.36 247.34 63.46 248.14 62.56 248.93 61.66 249.72 60.75 250.51 59.84 251.30 58.93 252.08 58.02 252.86 57.11 253.64 56.19 254.42 55.27 255.19 54.35 255.96 53.43 256.73 52.50 257.50 51.58 258.26 50.65 259.03 49.72 259.79 48.78 260.54 47.85 261.30 46.91 262.05 45.97 262.80 45.03 263.55 44.09 264.30 43.15 265.04 42.20 265.78 41.26 266.52 40.31 267.26 39.36 268.00 38.41 268.73 37.45 269.46 36.50 270.19 35.54 270.92 34.58 271.65 33.63 272.37 32.66 273.09 31.70 273.81 30.74 274.53 29.77 275.24 28.81 275.96 27.84 276.67 26.87 277.38 25.90 278.09 24.92 278.80 23.95 279.50 22.98 280.20 22.00 280.90 21.02" stroke="#0808ff" stroke-width="1.1"/>
<path d="M79.88 175.49 80.73 174.64 81.58 173.78 82.42 172.92 83.27 172.07 84.12 171.21 84.97 170.36 85.82 169.51 86.67 168.65 87.52 167.80 88.38 166.95 89.23 166.10 90.08 165.25 90.94 164.40 91.79 163.55 92.65 162.71 93.51 161.86 94.36 161.02 95.22 160.17 96.08 159.33 96.94 158.49 97.81 157.64 98.67 156.80 99.53 155.97 100.40 155.13 101.26 154.29 102.13 153.46 103.00 152.62 103.87 151.79 104.74 150.96 105.61 150.13 106.49 149.30 107.36 148.47 108.24 147.64 109.12 146.82 110.00 146.00 110.88 145.18 111.76 144.36 112.65 143.54 113.53 142.72 114.42 141.91 115.31 141.10 116.20 140.29 117.10 139.48 117.99 138.68 118.89 137.87 119.79 137.07 120.69 136.28 121.60 135.48 122.51 134.69 123.42 133.90 124.33 133.11 125.24 132.33 126.16 131.55 127.08 130.77 128.01 130.00 128.94 129.23 129.87 128.47 130.80 127.71 131.74 126.96 132.68 126.21 133.63 125.47 134.58 124.73 135.54 124.00 136.51 123.27 137.47 122.56 138.45 121.85 139.43 121.15 140.41 120.46 141.41 119.78 142.40 119.10 143.40 118.43 144.40 117.76 145.40 117.09 146.41 116.42 147.40 115.74 148.40 115.06 149.38 114.37 150.36 113.67 151.34 112.96 152.30 112.24 153.25 111.50 154.19 110.75 155.13 109.99 156.05 109.22 156.96 108.43 157.87 107.64 158.76 106.83 159.65 106.02 160.53 105.19 161.40 104.36 162.26 103.51 163.11 102.66 163.96 101.81 164.80 100.94 165.63 100.07 166.45 99.19 167.27 98.31 168.08 97.42 168.88 96.52 169.68 95.62 170.47 94.71 171.26 93.80 172.04 92.88 172.81 91.96 173.58 91.03 174.35 90.10 175.10 89.16 175.86 88.22 176.60 87.28 177.35 86.33 178.08 85.38 178.82 84.42 179.54 83.46 180.27 82.50 180.99 81.53 181.70 80.56 182.41 79.59 183.12 78.61 183.82 77.63 184.52 76.65 185.21 75.67 185.90 74.68 186.59 73.69 187.27 72.70 187.95 71.70 188.62 70.71 189.29 69.71 189.96 68.70 190.63 67.70 191.29 66.69 191.95 65.68 192.60 64.67 193.25 63.66 193.90 62.64 194.54 61.63 195.19 60.61 195.82 59.58 196.46 58.56 197.09 57.54 197.72 56.51 198.35 55.48 198.97 54.45 199.59 53.42 200.21 52.39 200.83 51.35 201.44 50.31 202.05 49.28 202.66 48.24 203.27 47.20 203.87 46.15 204.47 45.11 205.07 44.06 205.66 43.02 206.26 41.97 206.85 40.92 207.44 39.87 208.02 38.82 208.61 37.76 209.19 36.71 209.77 35.65 210.35 34.60 210.92 33.54 211.50 32.48 212.07 31.42 212.64 30.36 213.20 29.29 213.77 28.23 214.33 27.17 214.89 26.10 215.45 25.03 216.01 23.97 216.56 22.90 217.12 21.83 217.67 20.76" stroke="#0808ff" stroke-width="1.1"/>
<path d="M79.88 169.53 80.65 168.59 81.41 167.66 82.17 166.72 82.94 165.79 83.70 164.86 84.47 163.93 85.24 163.00 86.00 162.07 86.77 161.14 87.54 160.21 88.32 159.28 89.09 158.36 89.86 157.43 90.64 156.51 91.42 155.58 92.19 154.66 92.97 153.74 93.75 152.82 94.54 151.90 95.32 150.99 96.11 150.07 96.89 149.16 97.68 148.25 98.47 147.33 99.26 146.42 100.06 145.52 100.85 144.61 101.65 143.71 102.45 142.80 103.25 141.90 104.06 141.00 104.87 140.11 105.67 139.21 106.49 138.32 107.30 137.43 108.12 136.54 108.94 135.66 109.76 134.78 110.59 133.90 111.42 133.02 112.25 132.15 113.09 131.28 113.93 130.41 114.77 129.55 115.62 128.69 116.47 127.84 117.33 126.99 118.19 126.15 119.06 125.31 119.93 124.48 120.81 123.66 121.70 122.84 122.59 122.03 123.50 121.23 124.41 120.44 125.33 119.66 126.27 118.90 127.21 118.15 128.16 117.40 129.11 116.67 130.07 115.93 131.02 115.19 131.97 114.44 132.90 113.68 133.82 112.90 134.73 112.10 135.62 111.29 136.49 110.46 137.35 109.61 138.20 108.76 139.03 107.88 139.86 107.00 140.67 106.11 141.47 105.21 142.26 104.29 143.04 103.37 143.81 102.44 144.57 101.51 145.32 100.56 146.06 99.61 146.80 98.66 147.52 97.69 148.24 96.73 148.95 95.75 149.66 94.77 150.36 93.79 151.05 92.80 151.73 91.81 152.41 90.81 153.08 89.81 153.75 88.81 154.41 87.80 155.07 86.78 155.72 85.77 156.36 84.75 157.00 83.73 157.64 82.70 158.27 81.67 158.89 80.64 159.51 79.61 160.13 78.57 160.74 77.53 161.35 76.49 161.95 75.44 162.55 74.40 163.15 73.35 163.74 72.30 164.33 71.24 164.91 70.19 165.49 69.13 166.07 68.07 166.64 67.01 167.21 65.95 167.78 64.88 168.34 63.81 168.90 62.75 169.46 61.68 170.01 60.60 170.56 59.53 171.11 58.46 171.65 57.38 172.20 56.30 172.74 55.22 173.27 54.14 173.81 53.06 174.34 51.98 174.86 50.89 175.39 49.81 175.91 48.72 176.43 47.63 176.95 46.54 177.47 45.45 177.98 44.36 178.49 43.27 179.00 42.18 179.51 41.08 180.01 39.99 180.52 38.89 181.02 37.79 181.51 36.69 182.01 35.59 182.50 34.49 182.99 33.39 183.48 32.29 183.97 31.18 184.46 30.08 184.94 28.98 185.42 27.87 185.90 26.76 186.38 25.66 186.86 24.55 187.33 23.44 187.80 22.33 188.27 21.22" stroke="#0808ff" stroke-width="1.1"/>
<path d="M79.88 164.55 80.58 163.56 81.29 162.58 81.99 161.60 82.70 160.62 83.40 159.64 84.11 158.66 84.82 157.68 85.53 156.70 86.24 155.73 86.95 154.75 87.66 153.78 88.38 152.81 89.10 151.83 89.81 150.86 90.54 149.89 91.26 148.93 91.98 147.96 92.71 147.00 93.44 146.03 94.17 145.07 94.90 144.11 95.63 143.15 96.37 142.19 97.11 141.24 97.85 140.29 98.59 139.33 99.34 138.39 100.09 137.44 100.84 136.49 101.60 135.55 102.36 134.61 103.12 133.68 103.89 132.74 104.66 131.81 105.43 130.89 106.21 129.96 107.00 129.04 107.78 128.13 108.58 127.22 109.38 126.31 110.18 125.41 110.99 124.52 111.81 123.63 112.64 122.75 113.47 121.87 114.31 121.01 115.17 120.16 116.04 119.32 116.92 118.49 117.82 117.68 118.73 116.89 119.65 116.11 120.57 115.32 121.48 114.53 122.37 113.72 123.25 112.89 124.11 112.04 124.94 111.17 125.76 110.28 126.56 109.38 127.35 108.46 128.12 107.53 128.88 106.59 129.62 105.64 130.36 104.68 131.08 103.71 131.79 102.74 132.49 101.75 133.18 100.76 133.86 99.76 134.53 98.76 135.20 97.75 135.85 96.74 136.50 95.72 137.14 94.69 137.77 93.67 138.40 92.63 139.02 91.60 139.63 90.56 140.24 89.51 140.84 88.46 141.43 87.41 142.02 86.36 142.61 85.30 143.19 84.24 143.76 83.18 144.33 82.11 144.90 81.05 145.45 79.98 146.01 78.90 146.56 77.83 147.11 76.75 147.65 75.67 148.19 74.59 148.72 73.51 149.25 72.42 149.78 71.34 150.30 70.25 150.82 69.16 151.34 68.07 151.85 66.97 152.36 65.88 152.87 64.78 153.37 63.68 153.87 62.58 154.37 61.48 154.86 60.38 155.35 59.28 155.84 58.17 156.33 57.07 156.81 55.96 157.29 54.85 157.77 53.74 158.24 52.63 158.71 51.52 159.18 50.41 159.65 49.29 160.11 48.18 160.58 47.06 161.04 45.95 161.49 44.83 161.95 43.71 162.40 42.59 162.85 41.47 163.30 40.35 163.75 39.23 164.20 38.11 164.64 36.98 165.08 35.86 165.52 34.73 165.95 33.61 166.39 32.48 166.82 31.35 167.25 30.22 167.68 29.10 168.11 27.97 168.54 26.84 168.96 25.71 169.38 24.57 169.80 23.44 170.22 22.31 170.64 21.18" stroke="#0808ff" stroke-width="1.1"/>
<path d="M79.88 191.42 80.99 190.95 82.10 190.48 83.22 190.02 84.33 189.55 85.44 189.09 86.55 188.62 87.66 188.16 88.77 187.69 89.88 187.22 90.99 186.76 92.10 186.29 93.21 185.83 94.33 185.36 95.44 184.90 96.55 184.43 97.66 183.97 98.77 183.51 99.88 183.04 100.99 182.58 102.11 182.12 103.22 181.65 104.33 181.19 105.44 180.73 106.55 180.26 107.67 179.80 108.78 179.34 109.89 178.88 111.00 178.41 112.12 177.95 113.23 177.49 114.34 177.03 115.45 176.57 116.57 176.11 117.68 175.65 118.79 175.19 119.91 174.73 121.02 174.27 122.13 173.81 123.25 173.35 124.36 172.89 125.48 172.43 126.59 171.98 127.70 171.52 128.82 171.06 129.93 170.60 131.05 170.15 132.16 169.69 133.28 169.24 134.39 168.78 135.51 168.32 136.62 167.87 137.74 167.42 138.86 166.96 139.97 166.51 141.09 166.05 142.20 165.60 143.32 165.15 144.44 164.70 145.55 164.25 146.67 163.79 147.79 163.34 148.90 162.89 150.02 162.44 151.14 162.00 152.26 161.55 153.38 161.10 154.49 160.65 155.61 160.20 156.73 159.76 157.85 159.31 158.97 158.87 160.09 158.42 161.21 157.98 162.33 157.53 163.45 157.09 164.57 156.65 165.69 156.21 166.81 155.76 167.93 155.32 169.05 154.88 170.17 154.45 171.30 154.01 172.42 153.57 173.54 153.13 174.66 152.70 175.79 152.26 176.91 151.83 178.03 151.39 179.16 150.96 180.28 150.53 181.41 150.10 182.53 149.67 183.66 149.24 184.78 148.81 185.91 148.38 187.04 147.96 188.16 147.53 189.29 147.11 190.42 146.68 191.55 146.26 192.68 145.84 193.81 145.42 194.94 145.00 196.07 144.59 197.20 144.17 198.33 143.75 199.46 143.34 200.59 142.93 201.72 142.51 202.85 142.10 203.99 141.69 205.12 141.28 206.25 140.87 207.39 140.47 208.52 140.06 209.65 139.66 210.79 139.25 211.92 138.85 213.06 138.45 214.19 138.04 215.33 137.64 216.47 137.24 217.60 136.84 218.74 136.44 219.88 136.05 221.01 135.65 222.15 135.25 223.29 134.85 224.42 134.45 225.56 134.06 226.70 133.66 227.83 133.26 228.97 132.86 230.11 132.46 231.24 132.07 232.38 131.67 233.52 131.27 234.65 130.87 235.79 130.47 236.93 130.07 238.06 129.66 239.20 129.26 240.33 128.86 241.47 128.45 242.60 128.05 243.73 127.64 244.87 127.23 246.00 126.82 247.13 126.41 248.26 126.00 249.39 125.58 250.53 125.17 251.66 124.75 252.78 124.33 253.91 123.91 255.04 123.49 256.17 123.06 257.29 122.63 258.42 122.21 259.54 121.77 260.67 121.34 261.79 120.91 262.91 120.47 264.04 120.03 265.16 119.59 266.28 119.14 267.39 118.70 268.51 118.25 269.63 117.79 270.74 117.34 271.86 116.88 272.97 116.42 274.08 115.96 275.20 115.50 276.31 115.03 277.42 114.56 278.52 114.09 279.63 113.61 280.74 113.14 281.84 112.66 282.94 112.17 284.05 111.69 285.15 111.20 286.25 110.71 287.35 110.21 288.44 109.72 289.54 109.22 290.63 108.71 291.73 108.21 292.82 107.70 293.91 107.19 295.00 106.68 296.09 106.16 297.18 105.64 298.26 105.12 299.35 104.59 300.43 104.07 301.51 103.54 302.59 103.00 303.67 102.47 304.75 101.93 305.82 101.39 306.90 100.84 307.97 100.30 309.04 99.75 310.11 99.19 311.18 98.64 312.25 98.08 313.32 97.52 314.38 96.96 315.44 96.39 316.51 95.82 317.57 95.25 318.62 94.68 319.68 94.10 320.74 93.52 321.79 92.94 322.85 92.35 323.90 91.77 324.95 91.18 326.00 90.58 327.04 89.99 328.09 89.39 329.13 88.79 330.18 88.19 331.22 87.58 332.26 86.98 333.30 86.36 334.33 85.75 335.37 85.14 336.40 84.52 337.44 83.90 338.47 83.28 339.50 82.65 340.53 82.03 341.55 81.40 342.58 80.76 343.60 80.13 344.63 79.49 345.65 78.85 346.67 78.21 347.69 77.57" stroke="#1a1a1a" stroke-width="1.2"/>
<path d="M79.88 180.40 80.81 179.63 81.73 178.87 82.65 178.10 83.58 177.33 84.50 176.57 85.43 175.80 86.35 175.04 87.28 174.27 88.20 173.51 89.13 172.74 90.06 171.98 90.99 171.22 91.91 170.46 92.84 169.70 93.77 168.94 94.70 168.18 95.63 167.42 96.56 166.66 97.49 165.90 98.43 165.14 99.36 164.39 100.29 163.63 101.23 162.88 102.16 162.12 103.10 161.37 104.03 160.62 104.97 159.87 105.91 159.12 106.85 158.37 107.78 157.62 108.72 156.87 109.67 156.13 110.61 155.38 111.55 154.64 112.49 153.90 113.44 153.15 114.38 152.41 115.33 151.67 116.28 150.94 117.22 150.20 118.17 149.46 119.12 148.73 120.08 148.00 121.03 147.27 121.98 146.54 122.94 145.81 123.89 145.08 124.85 144.36 125.81 143.64 126.77 142.91 127.73 142.20 128.69 141.48 129.66 140.76 130.62 140.05 131.59 139.34 132.56 138.63 133.53 137.92 134.50 137.22 135.48 136.51 136.45 135.81 137.43 135.12 138.41 134.42 139.39 133.73 140.37 133.04 141.36 132.36 142.35 131.68 143.34 131.00 144.33 130.32 145.33 129.65 146.33 128.98 147.33 128.32 148.33 127.66 149.34 127.01 150.35 126.36 151.36 125.72 152.38 125.08 153.40 124.44 154.42 123.82 155.45 123.19 156.48 122.57 157.51 121.96 158.54 121.35 159.58 120.74 160.62 120.14 161.66 119.54 162.69 118.93 163.73 118.33 164.77 117.73 165.81 117.12 166.84 116.51 167.87 115.89 168.90 115.27 169.92 114.64 170.94 114.01 171.95 113.36 172.96 112.71 173.97 112.05 174.96 111.38 175.95 110.71 176.94 110.02 177.92 109.32 178.89 108.62 179.86 107.91 180.82 107.19 181.77 106.46 182.72 105.72 183.66 104.97 184.59 104.22 185.52 103.46 186.45 102.69 187.36 101.91 188.27 101.13 189.18 100.35 190.08 99.55 190.98 98.75 191.87 97.94 192.75 97.13 193.63 96.31 194.50 95.49 195.37 94.66 196.24 93.83 197.10 92.99 197.95 92.15 198.80 91.30 199.65 90.45 200.49 89.59 201.32 88.73 202.16 87.86 202.99 86.99 203.81 86.12 204.63 85.24 205.45 84.36 206.26 83.48 207.07 82.59 207.87 81.70 208.67 80.80 209.47 79.90 210.26 79.00 211.05 78.10 211.83 77.19 212.62 76.28 213.39 75.36 214.17 74.45 214.94 73.53 215.71 72.60 216.47 71.68 217.23 70.75 217.99 69.82 218.75 68.89 219.50 67.95 220.25 67.01 220.99 66.07 221.74 65.13 222.48 64.18 223.21 63.23 223.95 62.28 224.68 61.33 225.41 60.38 226.13 59.42 226.86 58.46 227.58 57.50 228.29 56.54 229.01 55.57 229.72 54.60 230.43 53.63 231.14 52.66 231.84 51.69 232.54 50.72 233.24 49.74 233.94 48.76 234.63 47.78 235.32 46.80 236.01 45.82 236.70 44.83 237.38 43.85 238.07 42.86 238.75 41.87 239.42 40.88 240.10 39.89 240.77 38.89 241.44 37.90 242.11 36.90 242.78 35.90 243.44 34.90 244.11 33.90 244.77 32.90 245.43 31.89 246.08 30.89 246.74 29.88 247.39 28.87 248.04 27.86 248.69 26.85 249.33 25.84 249.98 24.83 250.62 23.81 251.26 22.80 251.90 21.78 252.54 20.76" stroke="#1a1a1a" stroke-width="1.2"/>
<path d="M79.88 173.36 80.70 172.47 81.51 171.58 82.33 170.70 83.15 169.81 83.96 168.93 84.78 168.04 85.60 167.16 86.42 166.28 87.24 165.39 88.06 164.51 88.88 163.63 89.71 162.75 90.53 161.87 91.36 160.99 92.18 160.12 93.01 159.24 93.84 158.37 94.67 157.49 95.50 156.62 96.33 155.75 97.16 154.88 98.00 154.01 98.83 153.14 99.67 152.27 100.51 151.41 101.35 150.54 102.19 149.68 103.03 148.82 103.87 147.96 104.72 147.10 105.57 146.24 106.41 145.39 107.27 144.53 108.12 143.68 108.97 142.83 109.83 141.98 110.69 141.14 111.55 140.30 112.41 139.45 113.27 138.61 114.14 137.78 115.01 136.94 115.88 136.11 116.76 135.28 117.63 134.46 118.51 133.63 119.39 132.81 120.28 132.00 121.17 131.18 122.06 130.37 122.96 129.57 123.86 128.77 124.76 127.97 125.67 127.18 126.58 126.39 127.50 125.61 128.42 124.83 129.35 124.07 130.28 123.30 131.22 122.55 132.17 121.81 133.12 121.07 134.09 120.34 135.05 119.63 136.03 118.92 137.01 118.22 137.99 117.52 138.98 116.83 139.96 116.13 140.94 115.43 141.92 114.73 142.89 114.01 143.84 113.28 144.79 112.53 145.73 111.78 146.65 111.00 147.56 110.22 148.46 109.42 149.36 108.60 150.23 107.78 151.10 106.95 151.96 106.10 152.81 105.25 153.65 104.38 154.48 103.51 155.31 102.63 156.12 101.74 156.93 100.85 157.73 99.95 158.52 99.04 159.30 98.12 160.08 97.20 160.85 96.28 161.61 95.35 162.37 94.41 163.12 93.47 163.87 92.52 164.61 91.57 165.34 90.61 166.07 89.65 166.79 88.68 167.50 87.72 168.21 86.74 168.92 85.77 169.62 84.79 170.32 83.80 171.01 82.82 171.69 81.83 172.38 80.83 173.05 79.84 173.73 78.84 174.39 77.83 175.06 76.83 175.72 75.82 176.37 74.81 177.03 73.80 177.68 72.78 178.32 71.76 178.96 70.74 179.60 69.72 180.23 68.70 180.86 67.67 181.49 66.64 182.11 65.61 182.73 64.58 183.35 63.54 183.96 62.50 184.57 61.47 185.18 60.42 185.78 59.38 186.38 58.34 186.98 57.29 187.58 56.24 188.17 55.20 188.76 54.14 189.35 53.09 189.93 52.04 190.51 50.98 191.09 49.93 191.67 48.87 192.24 47.81 192.81 46.75 193.38 45.69 193.95 44.62 194.51 43.56 195.07 42.49 195.63 41.42 196.19 40.36 196.74 39.29 197.30 38.22 197.85 37.14 198.39 36.07 198.94 35.00 199.48 33.92 200.03 32.85 200.56 31.77 201.10 30.69 201.64 29.61 202.17 28.53 202.70 27.45 203.23 26.37 203.76 25.28 204.28 24.20 204.81 23.11 205.33 22.03 205.85 20.94" stroke="#1a1a1a" stroke-width="1.2"/>
<path d="M79.88 167.78 80.62 166.83 81.36 165.88 82.10 164.93 82.84 163.98 83.58 163.03 84.32 162.09 85.07 161.14 85.81 160.20 86.56 159.25 87.30 158.31 88.05 157.37 88.80 156.43 89.55 155.49 90.30 154.55 91.06 153.61 91.81 152.67 92.57 151.74 93.32 150.80 94.08 149.87 94.85 148.94 95.61 148.01 96.37 147.08 97.14 146.16 97.91 145.23 98.68 144.31 99.45 143.38 100.23 142.46 101.00 141.55 101.78 140.63 102.57 139.72 103.35 138.80 104.14 137.89 104.93 136.99 105.72 136.08 106.52 135.18 107.32 134.28 108.12 133.39 108.92 132.49 109.73 131.60 110.55 130.72 111.36 129.83 112.18 128.95 113.01 128.08 113.84 127.21 114.68 126.35 115.52 125.49 116.37 124.63 117.22 123.78 118.08 122.94 118.95 122.11 119.83 121.29 120.72 120.48 121.62 119.68 122.52 118.89 123.45 118.12 124.38 117.36 125.32 116.60 126.26 115.86 127.19 115.10 128.12 114.34 129.04 113.56 129.94 112.76 130.82 111.94 131.69 111.10 132.53 110.25 133.37 109.39 134.19 108.51 135.00 107.61 135.79 106.71 136.57 105.80 137.35 104.88 138.11 103.94 138.86 103.00 139.60 102.06 140.33 101.10 141.05 100.14 141.77 99.17 142.47 98.20 143.17 97.22 143.86 96.23 144.54 95.24 145.22 94.25 145.89 93.25 146.55 92.24 147.21 91.23 147.85 90.22 148.50 89.20 149.14 88.18 149.77 87.16 150.39 86.13 151.02 85.10 151.63 84.07 152.24 83.03 152.85 82.00 153.45 80.95 154.05 79.91 154.64 78.86 155.23 77.81 155.81 76.76 156.39 75.71 156.97 74.65 157.54 73.59 158.11 72.53 158.67 71.47 159.23 70.41 159.79 69.34 160.34 68.27 160.89 67.20 161.44 66.13 161.98 65.06 162.52 63.98 163.06 62.90 163.59 61.83 164.12 60.75 164.65 59.67 165.17 58.58 165.69 57.50 166.21 56.41 166.73 55.33 167.24 54.24 167.75 53.15 168.26 52.06 168.77 50.97 169.27 49.87 169.77 48.78 170.27 47.69 170.76 46.59 171.26 45.49 171.75 44.39 172.23 43.29 172.72 42.19 173.21 41.09 173.69 39.99 174.17 38.89 174.64 37.78 175.12 36.68 175.59 35.57 176.06 34.47 176.53 33.36 177.00 32.25 177.47 31.14 177.93 30.03 178.39 28.92 178.85 27.81 179.31 26.70 179.77 25.58 180.22 24.47 180.67 23.36 181.12 22.24 181.57 21.12" stroke="#1a1a1a" stroke-width="1.2"/>
<path d="M79.88 186.84 80.92 186.23 81.95 185.62 82.99 185.00 84.03 184.39 85.06 183.78 86.10 183.17 87.13 182.56 88.17 181.95 89.21 181.34 90.24 180.72 91.28 180.11 92.32 179.50 93.36 178.89 94.39 178.29 95.43 177.68 96.47 177.07 97.51 176.46 98.55 175.85 99.58 175.24 100.62 174.64 101.66 174.03 102.70 173.43 103.74 172.82 104.78 172.21 105.82 171.61 106.86 171.01 107.90 170.40 108.94 169.80 109.99 169.20 111.03 168.59 112.07 167.99 113.11 167.39 114.15 166.79 115.20 166.19 116.24 165.59 117.28 164.99 118.33 164.39 119.37 163.80 120.42 163.20 121.46 162.60 122.51 162.01 123.55 161.41 124.60 160.82 125.65 160.22 126.69 159.63 127.74 159.04 128.79 158.45 129.84 157.86 130.89 157.27 131.94 156.68 132.99 156.09 134.04 155.51 135.09 154.92 136.14 154.33 137.19 153.75 138.24 153.17 139.30 152.58 140.35 152.00 141.40 151.42 142.46 150.84 143.51 150.26 144.57 149.69 145.62 149.11 146.68 148.54 147.74 147.96 148.80 147.39 149.86 146.82 150.92 146.25 151.98 145.68 153.04 145.11 154.10 144.55 155.16 143.98 156.23 143.42 157.29 142.86 158.35 142.30 159.42 141.74 160.49 141.18 161.55 140.63 162.62 140.07 163.69 139.52 164.76 138.97 165.84 138.43 166.91 137.88 167.98 137.34 169.06 136.80 170.13 136.26 171.21 135.73 172.29 135.19 173.37 134.66 174.45 134.14 175.54 133.61 176.62 133.09 177.71 132.58 178.79 132.06 179.88 131.55 180.98 131.05 182.07 130.54 183.16 130.04 184.26 129.55 185.36 129.06 186.46 128.57 187.56 128.09 188.67 127.61 189.77 127.14 190.88 126.67 191.99 126.20 193.10 125.74 194.21 125.28 195.33 124.83 196.44 124.38 197.56 123.93 198.68 123.48 199.80 123.04 200.92 122.60 202.04 122.16 203.16 121.73 204.28 121.29 205.40 120.86 206.53 120.43 207.65 120.00 208.77 119.57 209.90 119.14 211.02 118.71 212.14 118.28 213.27 117.84 214.39 117.41 215.51 116.98 216.64 116.55 217.76 116.11 218.88 115.68 220.00 115.24 221.12 114.80 222.24 114.36 223.36 113.91 224.48 113.46 225.59 113.02 226.71 112.56 227.82 112.11 228.93 111.65 230.05 111.19 231.16 110.73 232.26 110.26 233.37 109.79 234.48 109.32 235.58 108.84 236.69 108.36 237.79 107.88 238.89 107.39 239.99 106.90 241.08 106.41 242.18 105.91 243.27 105.41 244.37 104.90 245.46 104.39 246.54 103.88 247.63 103.36 248.72 102.84 249.80 102.32 250.88 101.79 251.96 101.25 253.03 100.72 254.11 100.18 255.18 99.63 256.25 99.09 257.32 98.53 258.39 97.98 259.46 97.42 260.52 96.85 261.58 96.29 262.64 95.72 263.70 95.14 264.75 94.56 265.80 93.98 266.85 93.39 267.90 92.80 268.95 92.21 269.99 91.61 271.03 91.01 272.07 90.40 273.11 89.79 274.15 89.18 275.18 88.56 276.21 87.94 277.24 87.32 278.27 86.69 279.29 86.06 280.32 85.43 281.34 84.79 282.35 84.15 283.37 83.51 284.38 82.86 285.40 82.21 286.41 81.55 287.41 80.90 288.42 80.23 289.42 79.57 290.42 78.90 291.42 78.23 292.42 77.56 293.41 76.88 294.41 76.20 295.40 75.52 296.39 74.83 297.37 74.14 298.36 73.45 299.34 72.75 300.32 72.06 301.30 71.36 302.27 70.65 303.24 69.94 304.22 69.23 305.19 68.52 306.15 67.81 307.12 67.09 308.08 66.37 309.04 65.64 310.00 64.92 310.96 64.19 311.92 63.46 312.87 62.72 313.82 61.99 314.77 61.25 315.72 60.50 316.66 59.76 317.61 59.01 318.55 58.26 319.49 57.51 320.42 56.76 321.36 56.00 322.29 55.24 323.22 54.48 324.15 53.72 325.08 52.95 326.01 52.18 326.93 51.41 327.85 50.64 328.77 49.86 329.69 49.09 330.61 48.31 331.52 47.53 332.44 46.74 333.35 45.96 334.26 45.17 335.17 44.38 336.07 43.59 336.97 42.79 337.88 42.00 338.78 41.20 339.68 40.40 340.57 39.59 341.47 38.79 342.36 37.98 343.25 37.18 344.14 36.37 345.03 35.56 345.92 34.74 346.80 33.93 347.69 33.11" stroke="#1a1a1a" stroke-width="1.2"/>
<path d="M79.88 177.82 80.77 177.00 81.65 176.18 82.53 175.37 83.42 174.55 84.30 173.74 85.18 172.92 86.07 172.11 86.96 171.29 87.84 170.48 88.73 169.67 89.62 168.85 90.50 168.04 91.39 167.23 92.28 166.42 93.17 165.61 94.06 164.80 94.96 164.00 95.85 163.19 96.74 162.38 97.64 161.58 98.53 160.77 99.43 159.97 100.32 159.17 101.22 158.37 102.12 157.57 103.02 156.77 103.92 155.97 104.82 155.17 105.72 154.38 106.63 153.58 107.53 152.79 108.44 152.00 109.34 151.21 110.25 150.42 111.16 149.63 112.07 148.84 112.98 148.06 113.89 147.27 114.81 146.49 115.72 145.71 116.64 144.93 117.56 144.15 118.48 143.38 119.40 142.61 120.32 141.84 121.25 141.07 122.18 140.30 123.10 139.53 124.03 138.77 124.97 138.01 125.90 137.25 126.84 136.50 127.77 135.74 128.71 134.99 129.66 134.24 130.60 133.50 131.55 132.76 132.50 132.02 133.45 131.29 134.41 130.55 135.37 129.83 136.33 129.10 137.29 128.38 138.26 127.67 139.23 126.96 140.21 126.26 141.19 125.56 142.18 124.87 143.17 124.19 144.16 123.51 145.16 122.85 146.17 122.19 147.19 121.55 148.21 120.91 149.24 120.29 150.28 119.68 151.32 119.08 152.37 118.49 153.42 117.91 154.48 117.34 155.54 116.77 156.60 116.21 157.67 115.64 158.73 115.08 159.79 114.52 160.85 113.95 161.91 113.37 162.96 112.79 164.01 112.20 165.05 111.60 166.09 110.99 167.12 110.37 168.14 109.74 169.16 109.09 170.17 108.44 171.17 107.77 172.16 107.09 173.14 106.40 174.12 105.69 175.09 104.98 176.05 104.25 177.00 103.51 177.94 102.77 178.88 102.01 179.80 101.24 180.72 100.47 181.64 99.68 182.54 98.89 183.44 98.09 184.33 97.28 185.21 96.46 186.09 95.64 186.96 94.81 187.82 93.97 188.68 93.13 189.53 92.28 190.38 91.42 191.22 90.56 192.05 89.69 192.88 88.82 193.70 87.94 194.52 87.06 195.33 86.18 196.14 85.28 196.95 84.39 197.74 83.49 198.54 82.58 199.33 81.68 200.11 80.76 200.89 79.85 201.67 78.93 202.44 78.01 203.21 77.08 203.97 76.15 204.73 75.22 205.49 74.28 206.24 73.34 206.99 72.40 207.73 71.46 208.47 70.51 209.21 69.56 209.94 68.60 210.67 67.65 211.40 66.69 212.12 65.73 212.85 64.76 213.56 63.80 214.28 62.83 214.99 61.86 215.69 60.89 216.40 59.91 217.10 58.93 217.80 57.95 218.50 56.97 219.19 55.99 219.88 55.00 220.57 54.02 221.25 53.03 221.93 52.04 222.61 51.04 223.29 50.05 223.96 49.05 224.63 48.05 225.30 47.05 225.97 46.05 226.63 45.05 227.30 44.04 227.95 43.04 228.61 42.03 229.27 41.02 229.92 40.01 230.57 39.00 231.22 37.98 231.86 36.97 232.50 35.95 233.14 34.93 233.78 33.91 234.42 32.89 235.05 31.87 235.69 30.85 236.32 29.82 236.95 28.80 237.57 27.77 238.20 26.74 238.82 25.71 239.44 24.68 240.06 23.65 240.67 22.61 241.29 21.58 241.90 20.54" stroke="#1a1a1a" stroke-width="1.2"/>
<path d="M79.88 171.38 80.67 170.47 81.45 169.56 82.24 168.65 83.03 167.74 83.82 166.83 84.61 165.92 85.40 165.01 86.19 164.10 86.98 163.20 87.77 162.29 88.57 161.39 89.36 160.49 90.16 159.58 90.96 158.68 91.75 157.78 92.55 156.88 93.36 155.98 94.16 155.09 94.96 154.19 95.77 153.30 96.57 152.40 97.38 151.51 98.19 150.62 99.00 149.73 99.81 148.84 100.62 147.96 101.44 147.07 102.26 146.19 103.08 145.31 103.90 144.43 104.72 143.55 105.54 142.67 106.37 141.80 107.20 140.92 108.03 140.05 108.86 139.19 109.70 138.32 110.54 137.46 111.38 136.60 112.22 135.74 113.07 134.88 113.92 134.03 114.77 133.18 115.62 132.33 116.48 131.49 117.35 130.65 118.21 129.82 119.08 128.98 119.96 128.16 120.83 127.34 121.72 126.52 122.61 125.71 123.50 124.90 124.40 124.10 125.30 123.31 126.22 122.53 127.14 121.75 128.07 120.99 129.01 120.24 129.97 119.51 130.93 118.79 131.91 118.09 132.91 117.41 133.91 116.75 134.93 116.10 135.95 115.46 136.97 114.83 137.99 114.19 139.00 113.54 140.00 112.87 140.99 112.19 141.97 111.49 142.94 110.77 143.89 110.03 144.82 109.27 145.74 108.50 146.64 107.70 147.53 106.89 148.40 106.06 149.26 105.22 150.11 104.37 150.95 103.50 151.77 102.63 152.59 101.74 153.39 100.85 154.19 99.94 154.97 99.03 155.75 98.11 156.52 97.19 157.28 96.26 158.03 95.32 158.78 94.37 159.52 93.42 160.25 92.47 160.98 91.51 161.70 90.54 162.41 89.57 163.12 88.60 163.82 87.62 164.51 86.64 165.20 85.66 165.89 84.67 166.57 83.67 167.25 82.68 167.92 81.68 168.58 80.68 169.24 79.67 169.90 78.66 170.55 77.65 171.20 76.64 171.84 75.62 172.48 74.60 173.12 73.58 173.75 72.55 174.38 71.53 175.00 70.50 175.62 69.47 176.24 68.43 176.85 67.40 177.46 66.36 178.07 65.32 178.67 64.28 179.27 63.24 179.87 62.19 180.46 61.15 181.05 60.10 181.64 59.05 182.22 58.00 182.80 56.94 183.38 55.89 183.96 54.83 184.53 53.77 185.10 52.71 185.67 51.65 186.24 50.59 186.80 49.52 187.36 48.46 187.91 47.39 188.47 46.33 189.02 45.26 189.57 44.19 190.12 43.11 190.66 42.04 191.21 40.97 191.75 39.89 192.29 38.82 192.82 37.74 193.36 36.66 193.89 35.58 194.42 34.50 194.95 33.42 195.47 32.34 195.99 31.25 196.52 30.17 197.04 29.08 197.55 28.00 198.07 26.91 198.58 25.82 199.09 24.73 199.60 23.64 200.11 22.55 200.62 21.46 201.12 20.37" stroke="#1a1a1a" stroke-width="1.2"/>
<path d="M79.88 166.12 80.60 165.15 81.32 164.19 82.05 163.22 82.77 162.25 83.49 161.28 84.22 160.32 84.95 159.35 85.67 158.39 86.40 157.42 87.13 156.46 87.86 155.50 88.60 154.54 89.33 153.58 90.07 152.62 90.81 151.67 91.55 150.71 92.29 149.76 93.03 148.81 93.77 147.85 94.52 146.90 95.27 145.96 96.02 145.01 96.77 144.06 97.53 143.12 98.28 142.18 99.04 141.24 99.81 140.30 100.57 139.37 101.34 138.43 102.11 137.50 102.88 136.58 103.66 135.65 104.43 134.73 105.22 133.81 106.00 132.89 106.79 131.97 107.59 131.06 108.38 130.16 109.19 129.25 109.99 128.35 110.80 127.46 111.62 126.57 112.44 125.69 113.27 124.81 114.11 123.93 114.95 123.07 115.80 122.21 116.66 121.36 117.53 120.53 118.42 119.70 119.32 118.90 120.23 118.11 121.17 117.35 122.13 116.61 123.11 115.90 124.09 115.21 125.08 114.51 126.07 113.81 127.03 113.09 127.98 112.34 128.91 111.56 129.81 110.76 130.69 109.93 131.54 109.08 132.38 108.21 133.20 107.32 134.00 106.41 134.78 105.50 135.56 104.57 136.31 103.63 137.06 102.68 137.80 101.72 138.52 100.75 139.24 99.78 139.94 98.80 140.64 97.81 141.33 96.82 142.01 95.82 142.68 94.82 143.35 93.81 144.00 92.80 144.66 91.78 145.30 90.76 145.94 89.73 146.57 88.70 147.20 87.67 147.82 86.63 148.44 85.60 149.05 84.55 149.65 83.51 150.25 82.46 150.85 81.41 151.44 80.35 152.02 79.30 152.61 78.24 153.18 77.18 153.76 76.11 154.33 75.05 154.89 73.98 155.45 72.91 156.01 71.84 156.56 70.77 157.11 69.69 157.66 68.61 158.20 67.53 158.74 66.45 159.28 65.37 159.81 64.29 160.34 63.20 160.86 62.11 161.39 61.02 161.91 59.93 162.42 58.84 162.94 57.75 163.45 56.65 163.96 55.56 164.47 54.46 164.97 53.36 165.47 52.26 165.97 51.16 166.46 50.06 166.96 48.96 167.45 47.86 167.93 46.75 168.42 45.64 168.90 44.54 169.39 43.43 169.86 42.32 170.34 41.21 170.82 40.10 171.29 38.99 171.76 37.88 172.23 36.76 172.69 35.65 173.16 34.53 173.62 33.42 174.08 32.30 174.54 31.18 174.99 30.06 175.45 28.94 175.90 27.82 176.35 26.70 176.80 25.58 177.24 24.46 177.69 23.34 178.13 22.21 178.58 21.09" stroke="#1a1a1a" stroke-width="1.2"/>
<path d="M79.88 202.50 H347.45" stroke="#ff0000" stroke-width="1.28"/>
<path d="M203.49 202.17 205.49 202.11 207.50 202.05 209.51 201.99 211.52 201.92 213.52 201.84 215.53 201.75 217.54 201.66 219.54 201.56 221.55 201.45 223.55 201.33 225.56 201.20 227.56 201.06 229.57 200.92 231.57 200.76 233.57 200.60 235.57 200.42 237.57 200.24 239.57 200.04 241.57 199.84 243.57 199.62 245.56 199.40 247.56 199.16 249.55 198.91 251.54 198.66 253.53 198.39 255.52 198.11 257.51 197.82 259.50 197.52 261.48 197.21 263.46 196.89 265.44 196.56 267.42 196.22 269.40 195.87 271.38 195.50 273.35 195.13 275.32 194.75 277.29 194.36 279.26 193.96 281.23 193.54 283.19 193.12 285.15 192.69 287.11 192.25 289.07 191.80 291.02 191.34 292.98 190.87 294.93 190.39 296.88 189.91 298.82 189.41 300.77 188.91 302.71 188.40 304.65 187.87 306.59 187.34 308.52 186.81 310.46 186.26 312.39 185.71 314.32 185.14 316.24 184.57 318.16 184.00 320.09 183.41 322.01 182.82 323.92 182.22 325.84 181.61 327.75 180.99 329.66 180.37 331.57 179.74 333.47 179.11 335.37 178.46 337.27 177.81 339.17 177.16 341.07 176.49 342.96 175.82 344.85 175.14 346.74 174.46" stroke="#ff0000" stroke-width="1.28" stroke-dasharray="6.35 3.65" stroke-dashoffset="4.10"/>
<path d="M203.49 202.83 205.49 202.89 207.50 202.95 209.51 203.01 211.52 203.08 213.52 203.16 215.53 203.25 217.54 203.34 219.54 203.44 221.55 203.55 223.55 203.67 225.56 203.80 227.56 203.94 229.57 204.08 231.57 204.24 233.57 204.40 235.57 204.58 237.57 204.76 239.57 204.96 241.57 205.16 243.57 205.38 245.56 205.60 247.56 205.84 249.55 206.09 251.54 206.34 253.53 206.61 255.52 206.89 257.51 207.18 259.50 207.48 261.48 207.79 263.46 208.11 265.44 208.44 267.42 208.78 269.40 209.13 271.38 209.50 273.35 209.87 275.32 210.25 277.29 210.64 279.26 211.04 281.23 211.46 283.19 211.88 285.15 212.31 287.11 212.75 289.07 213.20 291.02 213.66 292.98 214.13 294.93 214.61 296.88 215.09 298.82 215.59 300.77 216.09 302.71 216.60 304.65 217.13 306.59 217.66 308.52 218.19 310.46 218.74 312.39 219.29 314.32 219.86 316.24 220.43 318.16 221.00 320.09 221.59 322.01 222.18 323.92 222.78 325.84 223.39 327.75 224.01 329.66 224.63 331.57 225.26 333.47 225.89 335.37 226.54 337.27 227.19 339.17 227.84 341.07 228.51 342.96 229.18 344.85 229.86 346.74 230.54" stroke="#ff0000" stroke-width="1.28" stroke-dasharray="6.35 3.65" stroke-dashoffset="0.20"/>
</g>
<rect x="53.55" y="27.40" width="293.90" height="205.75" fill="none" stroke="#747474" stroke-width="0.7"/>
<path d="M53.55 233.15 v-4.10 M53.55 27.40 v4.10 M65.31 233.15 v-2.60 M65.31 27.40 v2.60 M77.06 233.15 v-2.60 M77.06 27.40 v2.60 M88.82 233.15 v-2.60 M88.82 27.40 v2.60 M100.57 233.15 v-2.60 M100.57 27.40 v2.60 M112.33 233.15 v-4.10 M112.33 27.40 v4.10 M124.09 233.15 v-2.60 M124.09 27.40 v2.60 M135.84 233.15 v-2.60 M135.84 27.40 v2.60 M147.60 233.15 v-2.60 M147.60 27.40 v2.60 M159.35 233.15 v-2.60 M159.35 27.40 v2.60 M171.11 233.15 v-4.10 M171.11 27.40 v4.10 M182.87 233.15 v-2.60 M182.87 27.40 v2.60 M194.62 233.15 v-2.60 M194.62 27.40 v2.60 M206.38 233.15 v-2.60 M206.38 27.40 v2.60 M218.13 233.15 v-2.60 M218.13 27.40 v2.60 M229.89 233.15 v-4.10 M229.89 27.40 v4.10 M241.65 233.15 v-2.60 M241.65 27.40 v2.60 M253.40 233.15 v-2.60 M253.40 27.40 v2.60 M265.16 233.15 v-2.60 M265.16 27.40 v2.60 M276.91 233.15 v-2.60 M276.91 27.40 v2.60 M288.67 233.15 v-4.10 M288.67 27.40 v4.10 M300.43 233.15 v-2.60 M300.43 27.40 v2.60 M312.18 233.15 v-2.60 M312.18 27.40 v2.60 M323.94 233.15 v-2.60 M323.94 27.40 v2.60 M335.69 233.15 v-2.60 M335.69 27.40 v2.60 M347.45 233.15 v-4.10 M347.45 27.40 v4.10 M53.55 228.76 h2.60 M347.45 228.76 h-2.60 M53.55 220.01 h2.60 M347.45 220.01 h-2.60 M53.55 211.25 h2.60 M347.45 211.25 h-2.60 M53.55 202.50 h4.10 M347.45 202.50 h-4.10 M53.55 193.75 h2.60 M347.45 193.75 h-2.60 M53.55 184.99 h2.60 M347.45 184.99 h-2.60 M53.55 176.24 h2.60 M347.45 176.24 h-2.60 M53.55 167.48 h2.60 M347.45 167.48 h-2.60 M53.55 158.72 h4.10 M347.45 158.72 h-4.10 M53.55 149.97 h2.60 M347.45 149.97 h-2.60 M53.55 141.22 h2.60 M347.45 141.22 h-2.60 M53.55 132.46 h2.60 M347.45 132.46 h-2.60 M53.55 123.70 h2.60 M347.45 123.70 h-2.60 M53.55 114.95 h4.10 M347.45 114.95 h-4.10 M53.55 106.19 h2.60 M347.45 106.19 h-2.60 M53.55 97.44 h2.60 M347.45 97.44 h-2.60 M53.55 88.68 h2.60 M347.45 88.68 h-2.60 M53.55 79.93 h2.60 M347.45 79.93 h-2.60 M53.55 71.17 h4.10 M347.45 71.17 h-4.10 M53.55 62.42 h2.60 M347.45 62.42 h-2.60 M53.55 53.66 h2.60 M347.45 53.66 h-2.60 M53.55 44.91 h2.60 M347.45 44.91 h-2.60 M53.55 36.15 h2.60 M347.45 36.15 h-2.60 M53.55 27.40 h4.10 M347.45 27.40 h-4.10" stroke="#505050" stroke-width="0.85" fill="none"/>
<g class="it" font-size="17.5">
<text transform="translate(54.05,252.70) scale(1,1.035)" text-anchor="middle">0.00</text>
<text transform="translate(112.83,252.70) scale(1,1.035)" text-anchor="middle">0.05</text>
<text transform="translate(171.61,252.70) scale(1,1.035)" text-anchor="middle">0.10</text>
<text transform="translate(230.39,252.70) scale(1,1.035)" text-anchor="middle">0.15</text>
<text transform="translate(289.17,252.70) scale(1,1.035)" text-anchor="middle">0.20</text>
<text transform="translate(347.95,252.70) scale(1,1.035)" text-anchor="middle">0.25</text>
<text transform="translate(50.50,208.40) scale(1,1.035)" text-anchor="end">0.0</text>
<text transform="translate(50.50,164.62) scale(1,1.035)" text-anchor="end">0.5</text>
<text transform="translate(50.50,120.85) scale(1,1.035)" text-anchor="end">1.0</text>
<text transform="translate(50.50,77.08) scale(1,1.035)" text-anchor="end">1.5</text>
<text transform="translate(50.50,33.30) scale(1,1.035)" text-anchor="end">2.0</text>
</g>
<text x="4.7" y="20.6" font-size="18">(c)</text>
<g transform="translate(16.6,151.6) rotate(-90)" class="it">
<text x="0" y="0" font-size="19"><tspan>E</tspan><tspan font-size="13" dy="3.6">n</tspan><tspan dy="-3.6" font-style="normal">/</tspan><tspan>E</tspan><tspan font-size="13" dy="3.6">S</tspan></text>
</g>
<g class="it" font-size="18.5">
<text x="157.5" y="282.4">β</text>
<text x="170.6" y="282.4" font-style="normal">=</text>
<text x="182.6" y="282.4">b</text>
<path d="M193.1 276.4 L194.9 275.1 L199.4 283.6 L204.5 266.6 H230.6" fill="none" stroke="#000" stroke-width="0.8" stroke-linejoin="miter"/>
<path d="M194.9 275.2 L199.2 283.2" fill="none" stroke="#000" stroke-width="1.9"/>
<text transform="translate(209.2,282.4) scale(0.9,1)">eB</text>
<text x="232.3" y="282.4">/c</text>
</g>
</svg>
</body>
</html>
